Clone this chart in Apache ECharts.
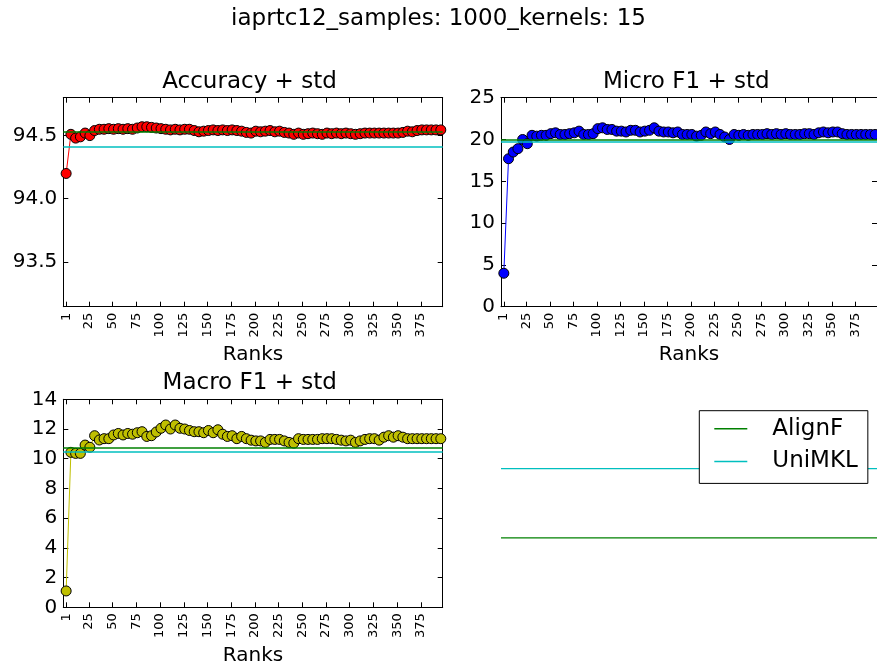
<!DOCTYPE html>
<html>
<head>
<meta charset="utf-8">
<script src="https://cdn.jsdelivr.net/npm/echarts@6/dist/echarts.min.js"></script>
<style>
  html, body { margin: 0; padding: 0; background: #ffffff; }
  #chart { width: 877px; height: 671px; }
</style>
</head>
<body>
<div id="chart"></div>
<script>
// Ranks evaluated (x values shared by every panel)
const ranks = [
  1, 6, 11, 16, 21, 26, 31, 36, 41, 46,
  51, 56, 61, 66, 71, 76, 81, 86, 91, 96,
  101, 106, 111, 116, 121, 126, 131, 136, 141, 146,
  151, 156, 161, 166, 171, 176, 181, 186, 191, 196,
  201, 206, 211, 216, 221, 226, 231, 236, 241, 246,
  251, 256, 261, 266, 271, 276, 281, 286, 291, 296,
  301, 306, 311, 316, 321, 326, 331, 336, 341, 346,
  351, 356, 361, 366, 371, 376, 381, 386, 391, 396
];

const accuracy = [
  94.20, 94.51, 94.48, 94.49, 94.52, 94.50, 94.54, 94.55, 94.55, 94.555,
  94.55, 94.555, 94.55, 94.555, 94.55, 94.56, 94.57, 94.57, 94.565, 94.56,
  94.555, 94.55, 94.545, 94.55, 94.545, 94.55, 94.55, 94.54, 94.53, 94.535,
  94.54, 94.545, 94.54, 94.545, 94.54, 94.545, 94.54, 94.535, 94.525, 94.52,
  94.535, 94.53, 94.535, 94.54, 94.53, 94.535, 94.525, 94.52, 94.51, 94.52,
  94.51, 94.515, 94.52, 94.515, 94.51, 94.52, 94.515, 94.52, 94.515, 94.52,
  94.515, 94.51, 94.515, 94.52, 94.52, 94.52, 94.52, 94.52, 94.52, 94.52,
  94.52, 94.525, 94.535, 94.53, 94.54, 94.545, 94.545, 94.545, 94.545, 94.545
];

const microF1 = [
  4.0, 17.7, 18.5, 18.9, 20.0, 19.5, 20.5, 20.4, 20.5, 20.5,
  20.7, 20.8, 20.6, 20.6, 20.7, 20.8, 21.0, 20.6, 20.6, 20.7,
  21.3, 21.4, 21.2, 21.2, 21.0, 21.0, 20.9, 21.1, 21.1, 20.9,
  21.0, 21.1, 21.4, 21.0, 20.9, 20.9, 20.8, 20.9, 20.6, 20.6,
  20.6, 20.4, 20.5, 20.9, 20.7, 20.9, 20.6, 20.3, 20.0, 20.6,
  20.5, 20.6, 20.5, 20.6, 20.6, 20.6, 20.7, 20.6, 20.7, 20.6,
  20.7, 20.6, 20.6, 20.6, 20.7, 20.7, 20.6, 20.8, 20.9, 20.8,
  20.9, 20.9, 20.7, 20.6, 20.6, 20.6, 20.6, 20.6, 20.6, 20.6
];

const macroF1 = [
  1.1, 10.43, 10.36, 10.36, 10.92, 10.77, 11.55, 11.26, 11.35, 11.35,
  11.6, 11.7, 11.6, 11.7, 11.65, 11.75, 11.82, 11.5, 11.55, 11.8,
  12.05, 12.27, 12.0, 12.27, 12.05, 12.0, 11.9, 11.82, 11.82, 11.75,
  11.9, 11.75, 11.95, 11.65, 11.5, 11.55, 11.35, 11.5, 11.35, 11.25,
  11.2, 11.2, 11.1, 11.3, 11.3, 11.3, 11.2, 11.1, 11.05, 11.35,
  11.3, 11.3, 11.3, 11.3, 11.35, 11.35, 11.35, 11.3, 11.25, 11.2,
  11.25, 11.1, 11.2, 11.3, 11.35, 11.35, 11.25, 11.45, 11.55, 11.45,
  11.55, 11.45, 11.35, 11.35, 11.35, 11.35, 11.35, 11.35, 11.35, 11.35
];

// Baseline methods: [AlignF, UniMKL]
const baselineNames = ['AlignF', 'UniMKL'];
const accuracyBaseline = [94.526, 94.405];
const microBaseline = [19.92, 19.72];
const macroBaseline = [10.74, 10.47];
// Levels of the two reference lines in the legend panel
const legendPanelLevels = [1, 2];

// Tick labels
const rankTicks = [1, 25, 50, 75, 100, 125, 150, 175, 200, 225, 250, 275, 300, 325, 350, 375];
const accuracyTicks = [93.5, 94.0, 94.5];
const microTicks = [0, 5, 10, 15, 20, 25];
const macroTicks = [0, 2, 4, 6, 8, 10, 12, 14];

const FONT = 'DejaVu Sans';
const BLACK = '#000000';
const baselineColors = ['#008000', '#00bfbf'];

const grids = [
  { left: 63.3, top: 97.7, width: 379.4, height: 209 },
  { left: 501, top: 97.7, width: 379.4, height: 209 },
  { left: 63.3, top: 399.3, width: 379.4, height: 208 },
  { left: 501, top: 399.3, width: 379.4, height: 208 }
];

function xAxisPair(gridIndex) {
  const common = {
    type: 'value', gridIndex: gridIndex, min: -2, max: 398,
    axisLine: { show: true, onZero: false, lineStyle: { color: BLACK, width: 1 } },
    axisTick: { show: true, inside: true, length: 5, customValues: rankTicks, lineStyle: { color: BLACK, width: 1 } },
    splitLine: { show: false }
  };
  return [
    Object.assign({}, common, {
      position: 'bottom',
      axisLabel: {
        show: true, customValues: rankTicks, rotate: 90, margin: 6,
        fontSize: 13, color: BLACK, fontFamily: FONT
      },
      name: 'Ranks', nameLocation: 'middle', nameGap: 38,
      nameTextStyle: { fontSize: 20, color: BLACK, fontFamily: FONT }
    }),
    Object.assign({}, common, { position: 'top', axisLabel: { show: false } })
  ];
}

function yAxisPair(gridIndex, min, max, ticks, digits) {
  const common = {
    type: 'value', gridIndex: gridIndex, min: min, max: max,
    axisLine: { show: true, onZero: false, lineStyle: { color: BLACK, width: 1 } },
    axisTick: { show: true, inside: true, length: 5, customValues: ticks, lineStyle: { color: BLACK, width: 1 } },
    splitLine: { show: false }
  };
  return [
    Object.assign({}, common, {
      position: 'left',
      axisLabel: {
        show: true, customValues: ticks, margin: 6,
        fontSize: 20, color: BLACK, fontFamily: FONT,
        formatter: function (v) { return Number(v).toFixed(digits); }
      }
    }),
    Object.assign({}, common, { position: 'right', axisLabel: { show: false } })
  ];
}

function pairs(values) {
  return ranks.map(function (r, i) { return [r, values[i]]; });
}

function baselineMarks(levels) {
  return {
    silent: true,
    symbol: ['none', 'none'],
    label: { show: false },
    emphasis: { disabled: true },
    data: levels.map(function (v, i) {
      return { yAxis: v, lineStyle: { color: baselineColors[i], width: 1.5, type: 'solid' } };
    })
  };
}

function scoreSeries(values, color, axisBase, levels) {
  return {
    type: 'line',
    xAxisIndex: axisBase, yAxisIndex: axisBase,
    data: pairs(values),
    symbol: 'circle', symbolSize: 10,
    itemStyle: { color: color, borderColor: BLACK, borderWidth: 1 },
    lineStyle: { color: color, width: 1 },
    emphasis: { disabled: true },
    markLine: baselineMarks(levels),
    z: 3
  };
}

const xAxes = [].concat(xAxisPair(0), xAxisPair(1), xAxisPair(2), [
  { type: 'value', gridIndex: 3, min: 0, max: 1, show: false }
]);
const yAxes = [].concat(
  yAxisPair(0, 93.145, 94.8, accuracyTicks, 1),
  yAxisPair(1, 0, 25, microTicks, 0),
  yAxisPair(2, 0, 14, macroTicks, 0),
  [{ type: 'value', gridIndex: 3, min: 0, max: 3, show: false }]
);

// Reference lines of the legend panel, one per baseline method
const legendSeries = baselineNames.map(function (name, i) {
  return {
    name: name, type: 'line', xAxisIndex: 6, yAxisIndex: 6,
    data: [[0, legendPanelLevels[i]], [1, legendPanelLevels[i]]],
    symbol: 'none', silent: true,
    itemStyle: { color: baselineColors[i] },
    lineStyle: { color: baselineColors[i], width: 1.3 }
  };
});

const titleText = function (text, x, y, size) {
  return {
    type: 'text', x: x, y: y, silent: true,
    style: { text: text, fill: BLACK, font: size + 'px "' + FONT + '"', align: 'center', verticalAlign: 'middle' }
  };
};

const chart = echarts.init(document.getElementById('chart'), null, { renderer: 'canvas' });
chart.setOption({
  animation: false,
  backgroundColor: '#ffffff',
  textStyle: { fontFamily: FONT },
  grid: grids,
  xAxis: xAxes,
  yAxis: yAxes,
  legend: {
    data: baselineNames,
    orient: 'vertical',
    left: 699.3, top: 410.7,
    padding: [6, 10, 10, 15],
    itemGap: 8.7,
    itemWidth: 33, itemHeight: 1.5,
    icon: 'rect',
    borderColor: BLACK, borderWidth: 1, borderRadius: 0,
    backgroundColor: '#ffffff',
    selectedMode: false,
    textStyle: { fontSize: 23, color: BLACK, fontFamily: FONT, lineHeight: 24, padding: [0, 0, 0, 20] }
  },
  graphic: [
    titleText('iaprtc12_samples: 1000_kernels: 15', 438.5, 18.7, 23),
    titleText('Accuracy + std', 249.5, 82, 23),
    titleText('Micro F1 + std', 686.3, 82, 23),
    titleText('Macro F1 + std', 249.7, 383, 23)
  ],
  series: [
    scoreSeries(accuracy, '#ff0000', 0, accuracyBaseline),
    scoreSeries(microF1, '#0000ff', 2, microBaseline),
    scoreSeries(macroF1, '#bfbf00', 4, macroBaseline)
  ].concat(legendSeries)
});
</script>
</body>
</html>
